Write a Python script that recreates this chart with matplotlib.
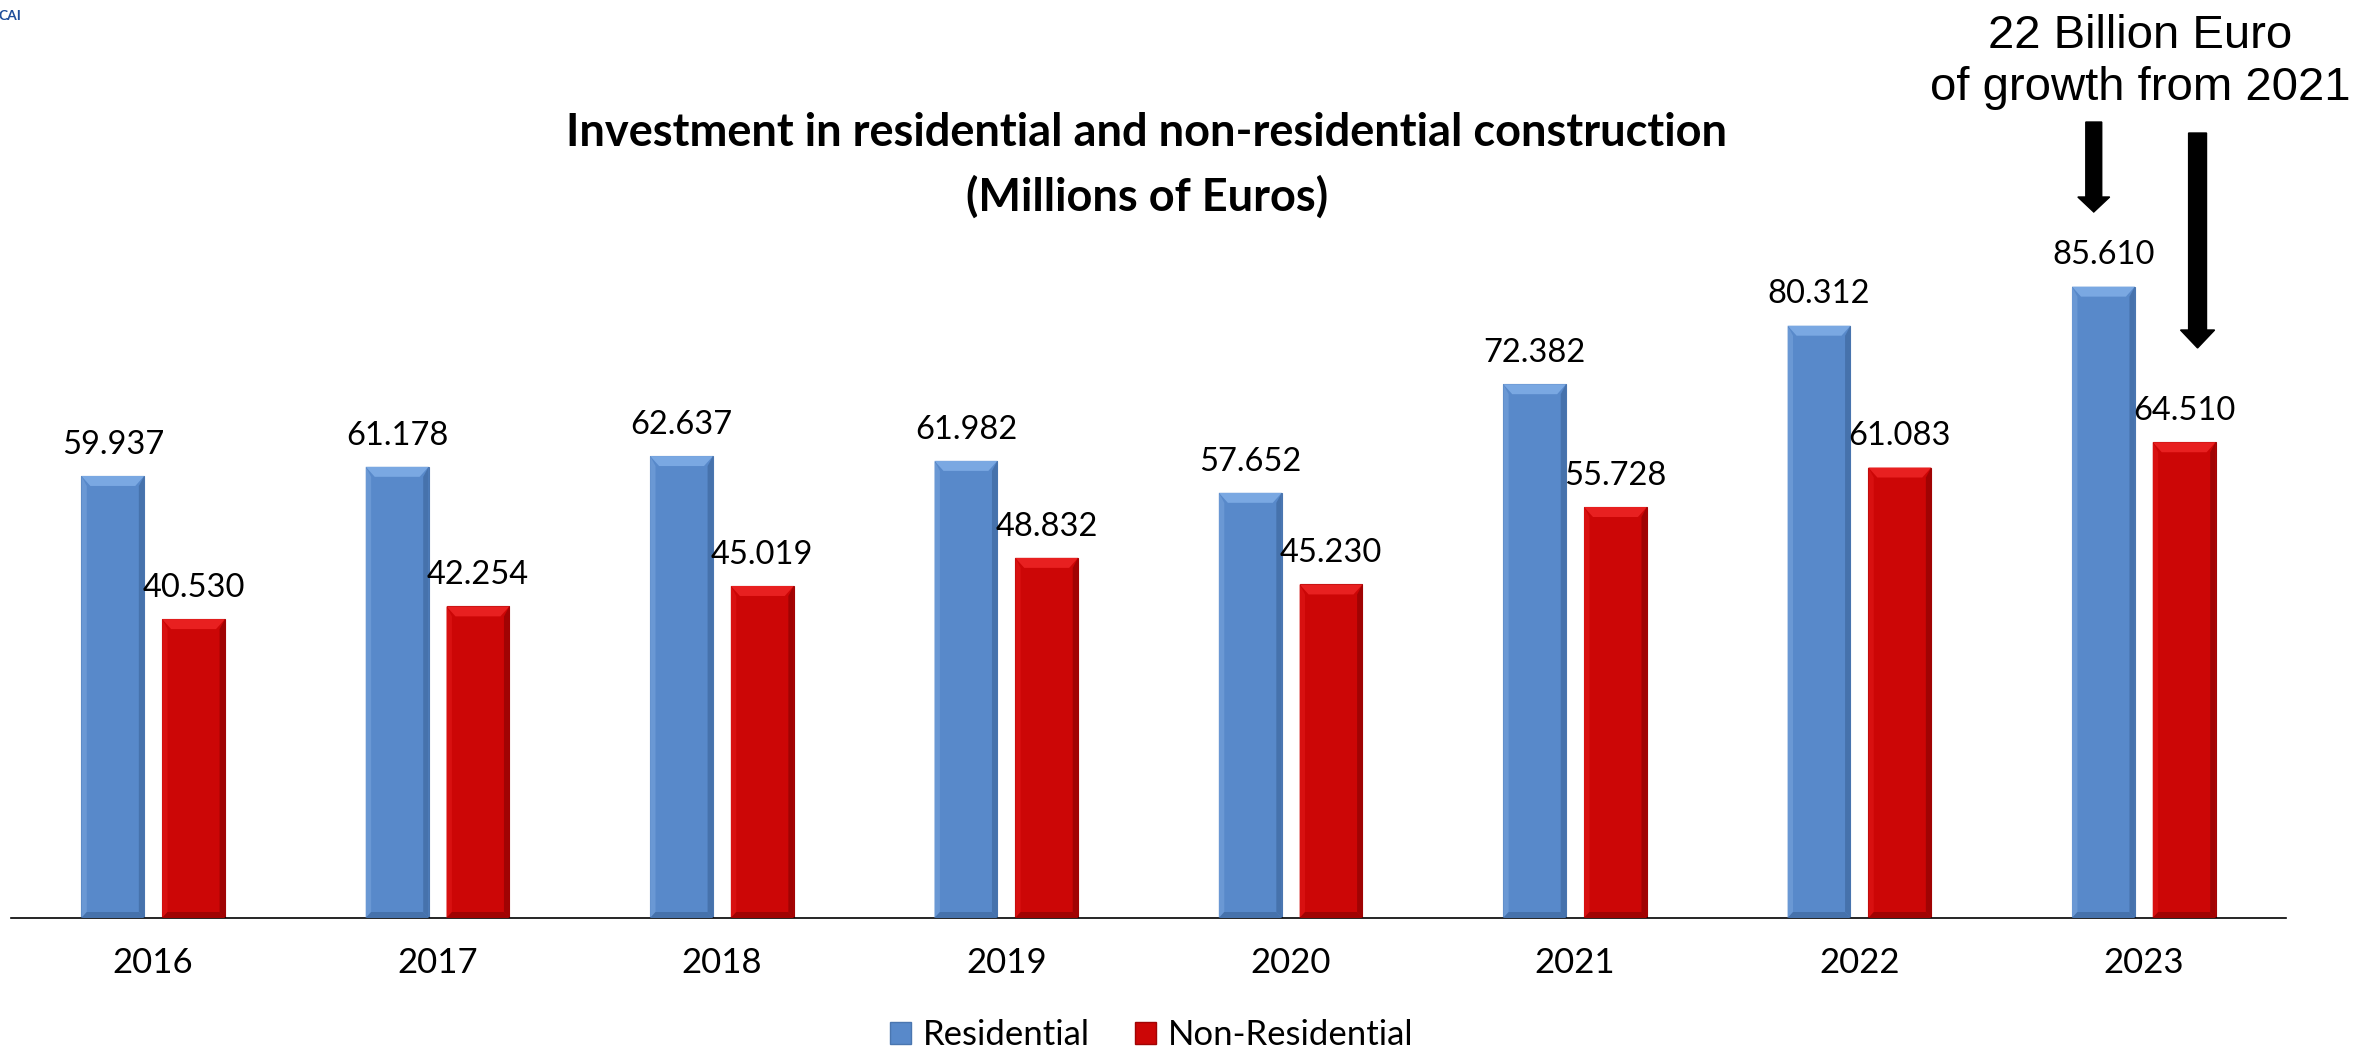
import matplotlib
matplotlib.use("Agg")
import matplotlib.pyplot as plt
from matplotlib.patches import Patch, Polygon

# dati (milioni di euro)
years = ["2016", "2017", "2018", "2019", "2020", "2021", "2022", "2023"]
residential = [59937, 61178, 62637, 61982, 57652, 72382, 80312, 85610]
non_residential = [40530, 42254, 45019, 48832, 45230, 55728, 61083, 64510]
series_names = ["Residential", "Non-Residential"]

BLUE = "#5889CA"
RED = "#CC0606"

plt.rcParams["font.family"] = ["Lato", "DejaVu Sans"]

W, H = 2377, 1051
fig = plt.figure(figsize=(W / 100, H / 100), dpi=100)
ax = fig.add_axes([11 / W, 133 / H, 2275 / W, 885 / H])
ax.set_xlim(-0.5, len(years) - 0.5)
ax.set_ylim(0, 120000)

bw = 0.221
off = 0.142
x = list(range(len(years)))
b1 = ax.bar([i - off for i in x], residential, bw, color=BLUE, edgecolor="#4A76B0", linewidth=0.8, zorder=2)
b2 = ax.bar([i + off for i in x], non_residential, bw, color=RED, edgecolor="#A00404", linewidth=0.8, zorder=2)

# effetto "bevel" come nell'originale
px_x = 1.0 / 284.6
px_y = 120000 / 885.0


def bevel(rect, light, dark, side):
    x0, w, h = rect.get_x(), rect.get_width(), rect.get_height()
    bx, by = 9 * px_x, 10 * px_y
    x1 = x0 + w
    top = Polygon([(x0, h), (x1, h), (x1 - bx, h - by), (x0 + bx, h - by)],
                  closed=True, facecolor=light, edgecolor="none", zorder=3)
    right = Polygon([(x1, h), (x1, 0), (x1 - bx * 0.6, by * 0.6), (x1 - bx * 0.6, h - by)],
                    closed=True, facecolor=dark, edgecolor="none", zorder=3)
    left = Polygon([(x0, h), (x0, 0), (x0 + bx * 0.6, by * 0.6), (x0 + bx * 0.6, h - by)],
                   closed=True, facecolor=side, edgecolor="none", zorder=3)
    bottom = Polygon([(x0, 0), (x1, 0), (x1 - bx * 0.6, by * 0.6), (x0 + bx * 0.6, by * 0.6)],
                     closed=True, facecolor=dark, edgecolor="none", zorder=3)
    for p in (top, right, left, bottom):
        ax.add_patch(p)


for r in b1:
    bevel(r, "#7AA8E2", "#4672AC", "#6A98D4")
for r in b2:
    bevel(r, "#E82020", "#A00303", "#D81010")

for bars, vals in ((b1, residential), (b2, non_residential)):
    for r, v in zip(bars, vals):
        ax.annotate(f"{v:,}".replace(",", "."), (r.get_x() + r.get_width() / 2, v),
                    xytext=(0, 16), textcoords="offset points",
                    ha="center", va="baseline", fontsize=23.5)

ax.set_xticks(x)
ax.set_xticklabels(years, fontsize=25)
ax.tick_params(axis="x", length=0, pad=21)
ax.set_yticks([])
for s in ("top", "right", "left"):
    ax.spines[s].set_visible(False)
ax.spines["bottom"].set_linewidth(1.2)
ax.spines["bottom"].set_color("black")

# titolo
fig.text(1147 / W, 1 - 133 / H, "Investment in residential and non-residential construction",
         ha="center", va="center", fontsize=32.5, fontweight="bold")
fig.text(1147 / W, 1 - 197 / H, "(Millions of Euros)",
         ha="center", va="center", fontsize=32.5, fontweight="bold")

# annotazione crescita
fig.text(2140 / W, 1 - 62 / H, "22 Billion Euro\nof growth from 2021",
         ha="center", va="center", fontsize=34, family=["Liberation Sans"], linespacing=1.25)
ax.arrow(6.824, 107930, 0, 95730 - 107930, width=0.056, head_width=0.112,
         head_length=2034, length_includes_head=True, color="black", clip_on=False)
ax.arrow(7.189, 106440, 0, 77290 - 106440, width=0.063, head_width=0.12,
         head_length=2440, length_includes_head=True, color="black", clip_on=False)

# logo tagliato in alto a sinistra
fig.text(21 / W, 1 - 16 / H, "CAI", ha="right", va="center", fontsize=10,
         fontweight="bold", color="#1F4E9A")

handles = [Patch(facecolor=BLUE, edgecolor="#4A76B0"), Patch(facecolor=RED, edgecolor="#A00404")]
fig.legend(handles, series_names, loc="center", bbox_to_anchor=(1152 / W, 1 - 1035 / H),
           ncol=2, frameon=False, fontsize=25, handlelength=0.6, handleheight=0.6,
           handletextpad=0.35, columnspacing=1.3)

fig.savefig("out.png", dpi=100)
